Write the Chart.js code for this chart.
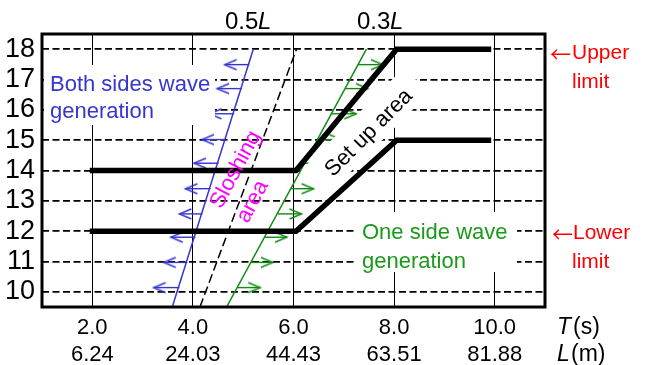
<!DOCTYPE html>
<html><head><meta charset="utf-8">
<script src="https://cdn.jsdelivr.net/npm/chart.js@4.4.1/dist/chart.umd.min.js"></script>
<style>html,body{margin:0;padding:0;background:#fff;}#wrap{width:647px;height:365px;}</style>
</head><body><div id="wrap"><canvas id="c" width="647" height="365"></canvas></div>
<script>
// ---------- data ----------
const xTickValues = [2, 4, 6, 8, 10];
const xTickPeriod = ['2.0', '4.0', '6.0', '8.0', '10.0'];
const xTickWavelength = ['6.24', '24.03', '44.43', '63.51', '81.88'];
const yTickValues = [10, 11, 12, 13, 14, 15, 16, 17, 18];

const limitT = [1.95, 6.05, 8.05, 9.93];
const upperLimitDepth = [14, 14, 18, 18];
const lowerLimitDepth = [12, 12, 15, 15];

const lineDepth = [9.5, 18];
const halfLT = [3.59, 5.20];   // 0.5L
const dashT = [4.14, 6.06];    // dashed boundary
const thirdLT = [4.67, 7.45];  // 0.3L

const arrowDepth = [10.14, 10.97, 11.80, 12.57, 13.40, 14.24, 15.02, 15.87, 16.70, 17.49];
const blueArrowFrom = [3.73, 3.89, 4.05, 4.19, 4.35, 4.51, 4.66, 4.82, 4.97, 5.12];
const blueArrowTo   = [3.22, 3.42, 3.56, 3.73, 3.85, 4.02, 4.18, 4.33, 4.48, 4.63];
const greenArrowFrom = [4.89, 5.16, 5.43, 5.69, 5.95, 6.22, 6.49, 6.75, 7.03, 7.29];
const greenArrowTo   = [5.34, 5.59, 5.87, 6.16, 6.40, 6.69, 6.95, 7.25, 7.48, 7.78];

// ---------- styling ----------
const BLUE = '#3535cf', GREEN = '#118a11', GREEN_TXT = '#1a9a1a', MAG = '#ff00ff', RED = '#ff0000';
const FONT = "'Liberation Sans'";

function makeHead(color, dir) {
  const c = document.createElement('canvas');
  c.width = 28; c.height = 14;
  const g = c.getContext('2d');
  g.strokeStyle = color; g.lineWidth = 1.4;
  g.beginPath();
  if (dir < 0) { g.moveTo(26, 2); g.lineTo(14, 7); g.lineTo(26, 12); }
  else { g.moveTo(2, 2); g.lineTo(14, 7); g.lineTo(2, 12); }
  g.stroke();
  return c;
}
const headL = makeHead(BLUE, -1), headR = makeHead(GREEN, 1);

const pts = (xs, ys) => xs.map((x, i) => ({x: x, y: ys[i]}));

const datasets = [
  {data: pts(limitT, upperLimitDepth), borderColor: '#000', borderWidth: 5.5},
  {data: pts(limitT, lowerLimitDepth), borderColor: '#000', borderWidth: 5.5},
  {data: pts(halfLT, lineDepth), borderColor: BLUE, borderWidth: 1.5},
  {data: pts(thirdLT, lineDepth), borderColor: GREEN, borderWidth: 1.5},
  {data: pts(dashT, lineDepth), borderColor: '#000', borderWidth: 1.5, borderDash: [9, 4]},
];
function arrowSet(from, to, color, head) {
  return arrowDepth.map((d, i) => ({
    data: [{x: from[i], y: d}, {x: to[i], y: d}],
    borderColor: color, borderWidth: 1.4,
    pointRadius: c => c.dataIndex === 1 ? 5 : 0,
    pointStyle: c => c.dataIndex === 1 ? head : false,
  }));
}
datasets.push(...arrowSet(blueArrowFrom, blueArrowTo, BLUE, headL));
datasets.push(...arrowSet(greenArrowFrom, greenArrowTo, GREEN, headR));

// ---------- decorations ----------
function txt(ctx, s, x, y, color, size, opts) {
  opts = opts || {};
  ctx.save();
  ctx.fillStyle = color;
  ctx.font = (opts.italic ? 'italic ' : '') + size + 'px ' + (opts.family || FONT);
  ctx.textAlign = opts.align || 'left';
  ctx.textBaseline = 'middle';
  ctx.translate(x, y);
  if (opts.rot) ctx.rotate(opts.rot * Math.PI / 180);
  ctx.fillText(s, 0, opts.dy || 0);
  ctx.restore();
}
function drawBoxes(chart) {
  const ctx = chart.ctx;
  ctx.save();
  ctx.fillStyle = '#fff';
  ctx.fillRect(44, 65, 171, 60);
  ctx.fillRect(357, 212, 160, 60);
  ctx.translate(365, 132);
  ctx.rotate(-45 * Math.PI / 180);
  ctx.fillRect(-73, -18, 146, 36);
  ctx.restore();
}
const ARROWFONT = "'Noto Sans CJK JP', 'DejaVu Sans'";
const decor = {
  id: 'decor',
  beforeDatasetsDraw(chart) { chart.$boxesDone = false; },
  beforeDatasetDraw(chart, args) {
    if (!chart.$boxesDone && args.index <= 4) { drawBoxes(chart); chart.$boxesDone = true; }
  },
  afterDatasetsDraw(chart) {
    const {ctx, chartArea: a} = chart;
    ctx.save();
    ctx.strokeStyle = '#000'; ctx.lineWidth = 3;
    ctx.strokeRect(a.left, a.top, a.right - a.left, a.bottom - a.top);
    ctx.restore();
  },
  afterDraw(chart) {
    const ctx = chart.ctx;
    txt(ctx, 'Both sides wave', 50, 85, BLUE, 22);
    txt(ctx, 'generation', 50, 112, BLUE, 22);
    txt(ctx, 'One side wave', 362, 233, GREEN_TXT, 22);
    txt(ctx, 'generation', 362, 262, GREEN_TXT, 22);
    txt(ctx, '\u2190', 550, 54, RED, 21, {family: ARROWFONT});
    txt(ctx, 'Upper', 572, 53, RED, 21);
    txt(ctx, 'limit', 572, 82, RED, 21);
    txt(ctx, '\u2190', 552, 234, RED, 21, {family: ARROWFONT});
    txt(ctx, 'Lower', 573, 233, RED, 21);
    txt(ctx, 'limit', 572, 262, RED, 21);
    txt(ctx, 'Set up area', 369, 133, '#000', 22, {align: 'center', rot: -45});
    txt(ctx, 'Sloshing', 216, 207, MAG, 22, {rot: -62});
    txt(ctx, 'area', 216, 207, MAG, 22, {rot: -62, dy: 30});
    // top labels
    txt(ctx, '0.5', 225, 22, '#000', 24);
    txt(ctx, 'L', 258, 22, '#000', 24, {italic: true});
    txt(ctx, '0.3', 357, 22, '#000', 24);
    txt(ctx, 'L', 390, 22, '#000', 24, {italic: true});
    // axis titles
    txt(ctx, 'T', 557, 328, '#000', 23, {italic: true});
    txt(ctx, '(s)', 573, 328, '#000', 23);
    txt(ctx, 'L', 557, 355, '#000', 23, {italic: true});
    txt(ctx, '(m)', 571, 355, '#000', 23);
  }
};

new Chart(document.getElementById('c'), {
  type: 'line',
  data: {datasets: datasets},
  plugins: [decor],
  options: {
    responsive: false, animation: false, devicePixelRatio: 1,
    layout: {padding: {top: 34, right: 102, left: 0, bottom: 0}},
    elements: {point: {radius: 0, hoverRadius: 0}, line: {tension: 0, fill: false, borderCapStyle: 'butt'}},
    plugins: {legend: {display: false}, tooltip: {enabled: false}},
    events: [],
    scales: {
      x: {
        type: 'linear', min: 1, max: 11,
        afterBuildTicks: ax => { ax.ticks = xTickValues.map(v => ({value: v})); },
        afterFit: ax => { ax.height = 58; },
        grid: {color: '#000', lineWidth: 1, drawTicks: false},
        border: {display: false},
        ticks: {
          padding: 7.5, color: '#000', autoSkip: false, maxRotation: 0,
          font: {family: FONT, size: 22, lineHeight: 27 / 22},
          callback: (v, i) => [xTickPeriod[i], xTickWavelength[i]]
        }
      },
      y: {
        type: 'linear', min: 9.5, max: 18.5,
        afterBuildTicks: ax => { ax.ticks = yTickValues.map(v => ({value: v})); },
        afterFit: ax => { ax.width = 42; },
        grid: {color: '#000', lineWidth: 1.8, drawTicks: false},
        border: {display: false, dash: [7, 3.5]},
        ticks: {
          padding: 7, color: '#000', autoSkip: false,
          font: {family: FONT, size: 27},
          callback: v => String(v)
        }
      }
    }
  }
});
</script></body></html>
